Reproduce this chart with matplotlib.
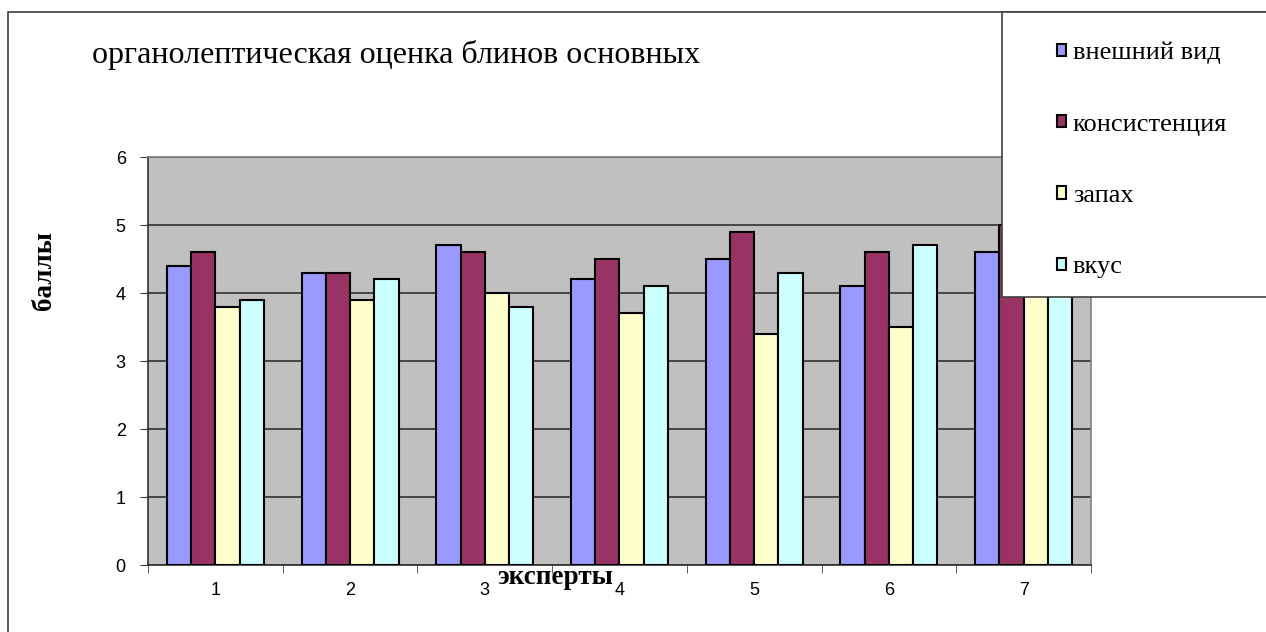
import numpy as np
import matplotlib.pyplot as plt
from matplotlib.patches import Rectangle, Patch

# оценки экспертов
experts = ['1', '2', '3', '4', '5', '6', '7']
vid = [4.4, 4.3, 4.7, 4.2, 4.5, 4.1, 4.6]
konsist = [4.6, 4.3, 4.6, 4.5, 4.9, 4.6, 5.0]
zapah = [3.8, 3.9, 4.0, 3.7, 3.4, 3.5, 4.1]
vkus = [3.9, 4.2, 3.8, 4.1, 4.3, 4.7, 4.3]

series = [vid, konsist, zapah, vkus]
names = ['внешний вид', 'консистенция', 'запах', 'вкус']
colors = ['#9999FF', '#993366', '#FFFFCC', '#CCFFFF']

W, H = 1266, 632
fig = plt.figure(figsize=(W / 100, H / 100), dpi=100)

serif = ['Liberation Serif', 'DejaVu Serif']
sans = ['Liberation Sans', 'DejaVu Sans']

# рамка диаграммы
fig.patches.append(Rectangle((8 / W, -0.1), 1.2, 1 - 12 / H + 0.1,
                             transform=fig.transFigure, fill=False,
                             edgecolor='#404040', lw=1.2, zorder=1))

ax = fig.add_axes([148 / W, 1 - 565 / H, (1091 - 148) / W, (565 - 157) / H])
ax.set_facecolor('#C0C0C0')

x = np.arange(1, len(experts) + 1)
bw = 0.18
for i, (vals, c, n) in enumerate(zip(series, colors, names)):
    ax.bar(x + (i - 1.5) * bw, vals, bw, color=c, edgecolor='black',
           linewidth=1.5, label=n, zorder=3)

ax.set_xlim(0.5, 7.5)
ax.set_ylim(0, 6)
ax.set_yticks(range(7))
ax.yaxis.grid(True, color='#303030', lw=1.2, zorder=1)
ax.set_axisbelow(True)

ax.set_xticks(x)
ax.set_xticklabels(experts, family=sans, fontsize=13)
ax.set_xticks(np.arange(0.5, 8, 1), minor=True)
ax.tick_params(axis='x', which='major', length=0, pad=12)
ax.tick_params(axis='x', which='minor', length=6, direction='out', color='#404040')
ax.tick_params(axis='y', length=6, direction='out', pad=10, color='#404040',
               labelsize=13)
for t in ax.get_yticklabels():
    t.set_family(sans)

ax.spines['left'].set_color('#303030')
ax.spines['bottom'].set_color('#303030')
ax.spines['top'].set_color('#808080')
ax.spines['right'].set_color('#808080')
for s in ax.spines.values():
    s.set_linewidth(1.2)

fig.text(92 / W, 1 - 55 / H, 'органолептическая оценка блинов основных',
         family=serif, fontsize=23, va='center', ha='left')
fig.text(555 / W, 1 - 578 / H, 'эксперты', family=serif, fontsize=19.5,
         weight='bold', ha='center', va='center')
fig.text(45 / W, 1 - 270 / H, 'баллы', family=serif, fontsize=19.5,
         weight='bold', rotation=90, ha='center', va='center')

# легенда
fig.patches.append(Rectangle((1002 / W, 1 - 297 / H), 0.3, (297 - 12) / H,
                             transform=fig.transFigure, facecolor='white',
                             edgecolor='#404040', lw=1.2, zorder=4))
handles = [Patch(facecolor=c, edgecolor='black', lw=1.5) for c in colors]
leg = fig.legend(handles, names, loc='upper left',
                 bbox_to_anchor=(1033 / W, 1 - 18 / H), frameon=False,
                 prop={'family': serif, 'size': 19}, handlelength=0.35,
                 handleheight=0.35, handletextpad=0.26, labelspacing=1.87)
leg.set_zorder(5)

fig.savefig('out.png', dpi=100)
